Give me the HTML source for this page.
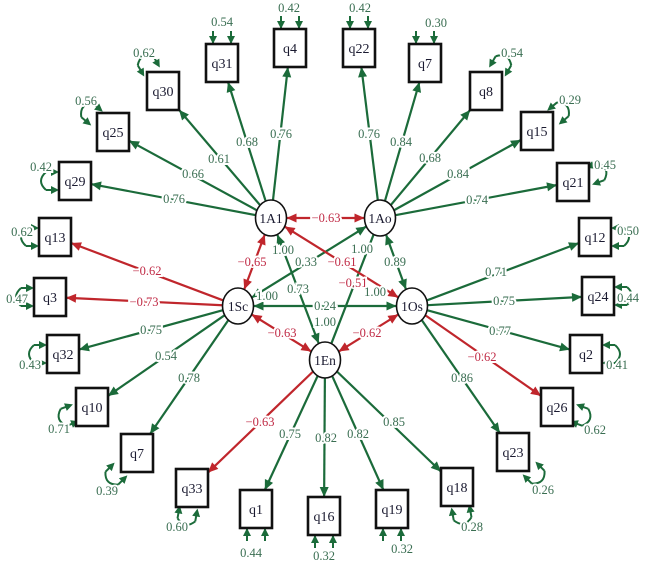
<!DOCTYPE html>
<html><head><meta charset="utf-8"><style>
html,body{margin:0;padding:0;background:#fff;}
svg{display:block;}
text{font-family:"Liberation Serif",serif;}
</style></head><body>
<svg id="s" width="645" height="565" viewBox="0 0 645 565" xmlns="http://www.w3.org/2000/svg"></svg>
<script>
const S=document.getElementById('s');const NS='http://www.w3.org/2000/svg';
const G='#1b6b3a',R='#c0262c',GT='#3a6e52',RT='#c02a45';
function el(t,a,p){const e=document.createElementNS(NS,t);for(const k in a)e.setAttribute(k,a[k]);(p||S).appendChild(e);return e;}
const F={A1:[271,218,'1A1'],Ao:[380,218,'1Ao'],Sc:[238,306,'1Sc'],Os:[412,306,'1Os'],En:[325,360,'1En']};
const RX=15.5,RY=18;
const B={q4:[290,48],q31:[222,63],q30:[163,91],q25:[113,132],q29:[75,181],q13:[55,237],q3:[50,297],q32:[63,354],q10:[92,407],q7L:[137,453,'q7'],q33:[192,488],q1:[256,509],q16:[324,516],q19:[392,509],q18:[457,487],q23:[513,452],q26:[557,407],q2:[586,354],q24:[598,296],q12:[595,237],q21:[573,182],q15:[537,131],q8:[486,91],q7R:[425,63,'q7'],q22:[359,48]};
const HW=16,HH=19;
function ellT(dx,dy){return 1/Math.sqrt((dx/RX)**2+(dy/RY)**2);}
function boxT(dx,dy){return Math.min(dx?HW/Math.abs(dx):1e9,dy?HH/Math.abs(dy):1e9);}
function arrow(x,y,ux,uy,c,L=10,W=4.5){const px=-uy,py=ux;el('polygon',{points:`${x},${y} ${x-ux*L+px*W},${y-uy*L+py*W} ${x-ux*L-px*W},${y-uy*L-py*W}`,fill:c});}
function label(x,y,t,c){const e=el('text',{x:x,y:y+4,'text-anchor':'middle','font-size':12.5,fill:c,stroke:'#fff','stroke-width':4,'paint-order':'stroke'});e.textContent=t;}
function line(x1,y1,x2,y2,c,a1,a2){el('line',{x1,y1,x2,y2,stroke:c,'stroke-width':2.2});const L=Math.hypot(x2-x1,y2-y1),ux=(x2-x1)/L,uy=(y2-y1)/L;if(a2)arrow(x2,y2,ux,uy,c);if(a1)arrow(x1,y1,-ux,-uy,c);}
// loadings
const E=[['A1','q4','0.76',281,134],['A1','q31','0.68',247,142],['A1','q30','0.61',219,159],['A1','q25','0.66',193,174],['A1','q29','0.76',174,199],
['Ao','q22','0.76',369,134],['Ao','q7R','0.84',401,142],['Ao','q8','0.68',430,158],['Ao','q15','0.84',458,174],['Ao','q21','0.74',477,200],
['Sc','q13','\u22120.62',147,271,1],['Sc','q3','\u22120.73',144,302,1],['Sc','q32','0.75',151,330],['Sc','q10','0.54',166,356],['Sc','q7L','0.78',189,378],
['Os','q12','0.71',496,272],['Os','q24','0.75',504,301],['Os','q2','0.77',500,331],['Os','q26','\u22120.62',482,357,1],['Os','q23','0.86',462,378],
['En','q33','\u22120.63',260,422,1],['En','q1','0.75',290,434],['En','q16','0.82',326,438],['En','q19','0.82',358,434],['En','q18','0.85',394,422]];
function ff(a,b){const A=F[a],Bf=F[b];const dx=Bf[0]-A[0],dy=Bf[1]-A[1];const t1=ellT(dx,dy),t2=ellT(-dx,-dy);return [A[0]+dx*t1,A[1]+dy*t1,Bf[0]-dx*t2,Bf[1]-dy*t2];}
// inter-factor
const I=[['A1','Ao',R,1,1],['A1','Sc',R,1,1],['Ao','Os',G,1,1],['Sc','Os',G,1,1],['Sc','En',R,1,1],['Os','En',R,1,1],['Sc','Ao',G,1,1],['A1','En',G,1,1],['En','Ao',G,0,0],['A1','Os',R,1,1]];
I.forEach(([a,b,c,a1,a2])=>{const p=ff(a,b);line(p[0],p[1],p[2],p[3],c,a1,a2);});
E.forEach(([f,q,t,lx,ly,red])=>{const A=F[f],Q=B[q];const dx=Q[0]-A[0],dy=Q[1]-A[1];const t1=ellT(dx,dy),t2=boxT(dx,dy);const c=red?R:G;
line(A[0]+dx*t1,A[1]+dy*t1,Q[0]-dx*t2,Q[1]-dy*t2,c,0,1);});
// residuals [box,label,lx,ly,angle deg (outward), straight]
const RS=[['q4','0.42',289,8,-90,1],['q31','0.54',222,22,-90,1],['q22','0.42',360,8,-90,1],['q7R','0.30',436,23,-90,1],
['q30','0.62',144,53,-120],['q25','0.56',86,101,-140],['q29','0.42',41,167,180],['q13','0.62',22,232,180],['q3','0.47',17,299,180],['q32','0.43',30,365,180],
['q10','0.71',59,429,160],['q7L','0.39',107,491,135],['q33','0.60',177,527,100],['q1','0.44',251,553,90,1],['q16','0.32',324,556,90,1],['q19','0.32',402,549,90,1],
['q18','0.28',472,527,80],['q23','0.26',543,490,45],['q26','0.62',595,430,20],['q2','0.41',617,365,0],['q24','0.44',628,298,0],['q12','0.50',628,231,0],['q21','0.45',605,165,-20],['q15','0.29',570,100,-40],['q8','0.54',512,53,-60]];
RS.forEach(([q,t,lx,ly,ang,st])=>{const Q=B[q];const a=ang*Math.PI/180,ux=Math.cos(a),uy=Math.sin(a),px=-uy,py=ux;const pts=[];
[-9,9].forEach(o=>{const sx=Q[0]+px*o,sy=Q[1]+py*o;const tt=boxT(ux,uy);const ex=sx+ux*tt,ey=sy+uy*tt;pts.push([ex,ey,ex+ux*13,ey+uy*13]);});
if(st){pts.forEach(p=>{el('line',{x1:p[2],y1:p[3],x2:p[0],y2:p[1],stroke:G,'stroke-width':2});arrow(p[0],p[1],-ux,-uy,G,8,4);});}
else{const cx=(pts[0][2]+pts[1][2])/2+ux*10,cy=(pts[0][3]+pts[1][3])/2+uy*10;
el('path',{d:`M${pts[0][2]},${pts[0][3]} Q${cx},${cy} ${pts[1][2]},${pts[1][3]}`,fill:'none',stroke:G,'stroke-width':2});
pts.forEach(p=>{el('line',{x1:p[2],y1:p[3],x2:p[0]+ux*6,y2:p[1]+uy*6,stroke:G,'stroke-width':2});arrow(p[0],p[1],-ux,-uy,G,8,4);});}
label(lx,ly,t,GT);});
// labels
E.forEach(([f,q,t,lx,ly,red])=>label(lx,ly,t,red?RT:GT));
[['\u22120.63',326,218,RT],['\u22120.65',252,262,RT],['0.89',395,262,GT],['0.24',325,306,GT],['\u22120.63',282,333,RT],['\u22120.62',367,333,RT],
['0.33',306,262,GT],['\u22120.61',342,262,RT],['0.73',298,289,GT],['\u22120.51',353,283,RT],['1.00',283,250,GT],['1.00',362,249,GT],['1.00',267,296,GT],['1.00',375,292,GT],['1.00',325,322,GT]].forEach(l=>label(l[1],l[2],l[0],l[3]));
// boxes
for(const k in B){const Q=B[k];el('rect',{x:Q[0]-HW,y:Q[1]-HH,width:HW*2,height:HH*2,fill:'#fff',stroke:'#111','stroke-width':2.6});
const e=el('text',{x:Q[0],y:Q[1]+5,'text-anchor':'middle','font-size':14,fill:'#1a1a30'});e.textContent=Q[2]||k;}
for(const k in F){const A=F[k];el('ellipse',{cx:A[0],cy:A[1],rx:RX,ry:RY,fill:'#fff',stroke:'#111','stroke-width':1.6});
const e=el('text',{x:A[0],y:A[1]+5,'text-anchor':'middle','font-size':13.5,fill:'#1a1a30'});e.textContent=A[2];}
</script>
</body></html>
